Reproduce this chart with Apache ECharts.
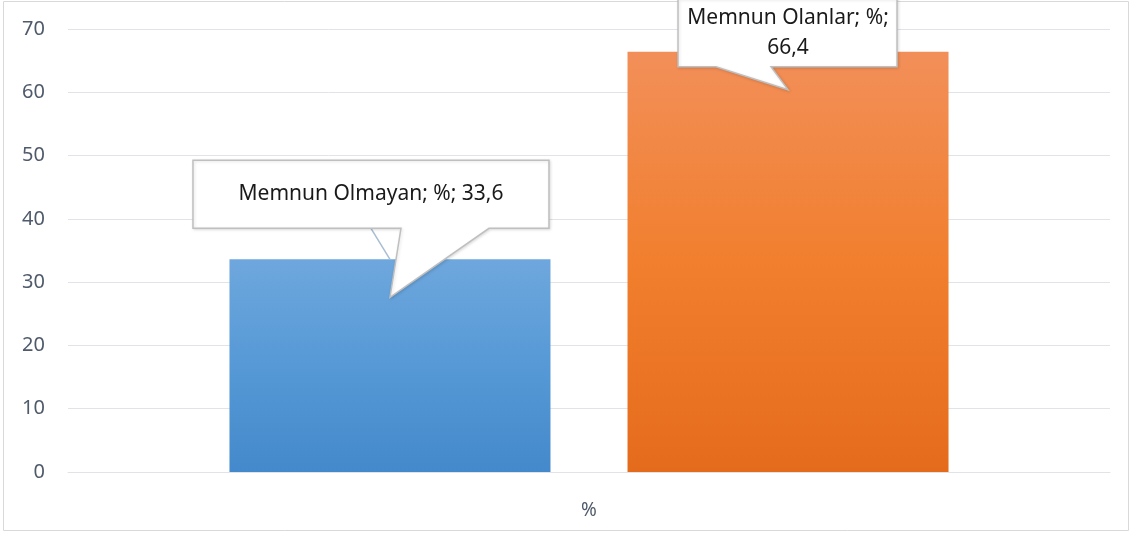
<!DOCTYPE html>
<html>
<head>
<meta charset="utf-8">
<script src="https://cdn.jsdelivr.net/npm/echarts@6/dist/echarts.min.js"></script>
<style>
  html, body { margin: 0; padding: 0; background: #fff; }
  #main { width: 1132px; height: 536px; }
</style>
</head>
<body>
<div id="main"></div>
<script>
const categories = ['%'];
const seriesNames = ['Memnun Olmayan', 'Memnun Olanlar'];
const values = [33.6, 66.4];
const yMin = 0, yMax = 70, yStep = 10;

const FONT = '"Noto Sans", "Open Sans", sans-serif';
const AXIS_COLOR = '#4f5a6b';
const GRID_COLOR = '#e0e3e8';

const gradients = [
  ['#6ea7dd', '#5699d6', '#4489cb'],
  ['#f28f59', '#f17f2e', '#e56b1c']
];

const chart = echarts.init(document.getElementById('main'));

function fmt(v) {
  return String(v).replace('.', ',');
}

const option = {
  animation: false,
  grid: { left: 68, right: 22, top: 29, bottom: 64 },
  xAxis: {
    type: 'category',
    data: categories,
    axisLine: { lineStyle: { color: GRID_COLOR, width: 1 } },
    axisTick: { show: false },
    axisLabel: { color: AXIS_COLOR, fontSize: 19, fontFamily: FONT, margin: 29 }
  },
  yAxis: {
    type: 'value',
    min: yMin,
    max: yMax,
    interval: yStep,
    axisLine: { show: false },
    axisTick: { show: false },
    splitLine: { lineStyle: { color: GRID_COLOR, width: 1 } },
    axisLabel: { color: AXIS_COLOR, fontSize: 20, fontFamily: FONT, margin: 23 }
  },
  series: seriesNames.map((name, i) => ({
    name: name,
    type: 'bar',
    barWidth: 321,
    barGap: '24%',
    data: [values[i]],
    itemStyle: {
      color: new echarts.graphic.LinearGradient(0, 0, 0, 1, [
        { offset: 0, color: gradients[i][0] },
        { offset: 0.5, color: gradients[i][1] },
        { offset: 1, color: gradients[i][2] }
      ])
    }
  }))
};

chart.setOption(option);

// callout bubbles, anchored on each bar's top centre
function callouts() {
  const els = [];
  els.push({
    type: 'rect',
    shape: { x: 3.5, y: 1.5, width: 1125, height: 529 },
    style: { fill: 'none', stroke: '#d9d9d9', lineWidth: 1 },
    z: 0, silent: true
  });
  const boxes = [
    // box left/right relative to cx, top/bottom relative to bar top, pointer base, text
    { l: -197, r: 159, t: -99, b: -31, p1: 11, p2: 99, tx: -19, lines: [-65] },
    { l: -110, r: 109, t: -53, b: 15, p1: -72, p2: -17, tx: 0, lines: [-34, -4] }
  ];
  seriesNames.forEach((name, i) => {
    const lay = chart.getModel().getSeriesByIndex(i).getData().getItemLayout(0);
    const cx = lay.x + lay.width / 2;
    const top = lay.y + lay.height;
    const b = boxes[i];
    const tipY = top + 38;
    if (b.b < 0) {
      els.push({
        type: 'line',
        shape: { x1: cx - 19, y1: top + b.b, x2: cx, y2: top },
        style: { stroke: '#a9bdd2', lineWidth: 1.5 },
        z: 10, silent: true
      });
    }
    els.push({
      type: 'polygon',
      shape: {
        points: [
          [cx + b.l, top + b.t], [cx + b.r, top + b.t], [cx + b.r, top + b.b],
          [cx + b.p2, top + b.b], [cx, tipY], [cx + b.p1, top + b.b], [cx + b.l, top + b.b]
        ]
      },
      style: {
        fill: '#fff', stroke: '#bfbfbf', lineWidth: 1.5,
        shadowColor: 'rgba(0,0,0,0.12)', shadowBlur: 3, shadowOffsetX: 1, shadowOffsetY: 1
      },
      z: 20, silent: true
    });
    const full = name + '; %; ' + fmt(values[i]);
    const texts = b.lines.length === 1 ? [full] : [name + '; %;', fmt(values[i])];
    texts.forEach((t, k) => {
      els.push({
        type: 'text',
        x: cx + b.tx,
        y: top + b.lines[k],
        style: {
          text: t, fill: '#1a1a1a', font: '21px ' + FONT,
          align: 'center', verticalAlign: 'middle'
        },
        z: 30, silent: true
      });
    });
  });
  chart.setOption({ graphic: { elements: els } });
}

callouts();
</script>
</body>
</html>
